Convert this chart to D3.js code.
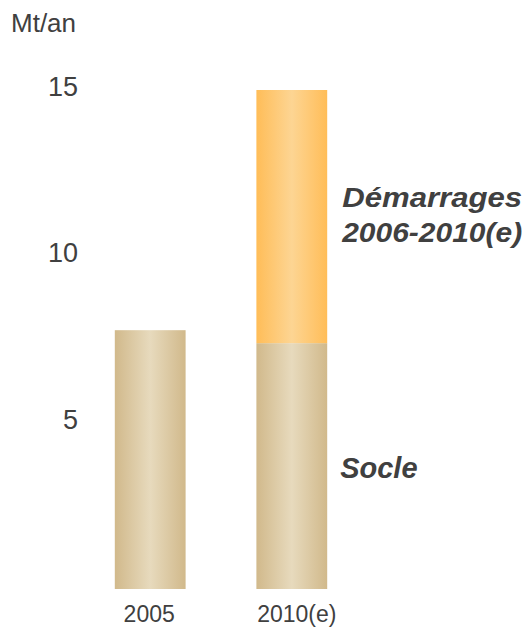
<!DOCTYPE html>
<html>
<head>
<meta charset="utf-8">
<script src="https://cdn.jsdelivr.net/npm/d3@7"></script>
<style>
  body { margin: 0; background: #fff; }
  svg text { font-family: "Liberation Sans", Arial, sans-serif; fill: #404040; }
</style>
</head>
<body>
<div id="chart"></div>
<script>
// data (Mt/an)
const categories = ['2005', '2010(e)'];
const socle = [7.78, 7.39];
const demarrages = [0, 7.61];
const tickValues = [5, 10, 15];
const unitLabel = 'Mt/an';
const seriesLabels = [['Démarrages', '2006-2010(e)'], ['Socle']];

const width = 532;
const height = 628;

let svg = d3.select('#chart')
  .append('svg')
  .attr('width', width)
  .attr('height', height);

let defs = svg.append('defs');
addGradient('tan', '#d1b98b', '#e7dabd');
addGradient('orange', '#ffbd58', '#fdd593');

function addGradient(id, edge, middle) {
  let g = defs.append('linearGradient')
    .attr('id', id)
    .attr('x1', '0%').attr('x2', '100%')
    .attr('y1', '0%').attr('y2', '0%');
  g.append('stop').attr('offset', '0%').attr('stop-color', edge);
  g.append('stop').attr('offset', '50%').attr('stop-color', middle);
  g.append('stop').attr('offset', '100%').attr('stop-color', edge);
}

let x = d3.scaleBand()
  .domain(categories)
  .range([44, 398])
  .paddingInner(0.5)
  .paddingOuter(0.5);

let y = d3.scaleLinear()
  .domain([0, 15])
  .range([589, 90]);

let stacked = d3.stack().keys(['socle', 'demarrages'])(
  categories.map((c, i) => ({cat: c, socle: socle[i], demarrages: demarrages[i]}))
);
let fills = ['url(#tan)', 'url(#orange)'];

stacked.forEach((layer, li) => {
  svg.append('g')
    .selectAll('rect')
    .data(layer.filter(d => d[1] > d[0]))
    .enter()
    .append('rect')
    .attr('x', d => x(d.data.cat))
    .attr('width', x.bandwidth())
    .attr('y', d => y(d[1]))
    .attr('height', d => y(d[0]) - y(d[1]))
    .attr('fill', fills[li]);
});

// y tick labels (no axis line in the original)
svg.append('g')
  .selectAll('text')
  .data(tickValues)
  .enter()
  .append('text')
  .attr('x', 78)
  .attr('y', d => y(d))
  .attr('dy', '0.22em')
  .attr('text-anchor', 'end')
  .style('font-size', '27px')
  .text(d => d);

svg.append('text')
  .attr('x', 11)
  .attr('y', 32)
  .style('font-size', '26px')
  .text(unitLabel);

// category labels
svg.append('g')
  .selectAll('text')
  .data(categories)
  .enter()
  .append('text')
  .attr('x', d => x(d) + x.bandwidth() / 2 + (d === '2005' ? -1 : 5))
  .attr('y', 622)
  .attr('text-anchor', 'middle')
  .style('font-size', '23px')
  .text(d => d);

// series labels on the right of the last bar
let last = categories[categories.length - 1];
let labelX = x(last) + x.bandwidth() + 15;
let topLayer = stacked[1].find(d => d.data.cat === last);
let baseLayer = stacked[0].find(d => d.data.cat === last);

let dem = svg.append('text')
  .attr('x', labelX)
  .attr('y', y((topLayer[0] + topLayer[1]) / 2) + 7)
  .style('font-size', '27px')
  .style('font-weight', 'bold')
  .style('font-style', 'italic');
seriesLabels[0].forEach((line, i) => {
  dem.append('tspan')
    .attr('x', labelX)
    .attr('dy', i === 0 ? '-0.62em' : '1.3em')
    .attr('textLength', 180)
    .attr('lengthAdjust', 'spacingAndGlyphs')
    .text(line);
});

svg.append('text')
  .attr('x', labelX - 2)
  .attr('y', y((baseLayer[0] + baseLayer[1]) / 2) + 12)
  .style('font-size', '29px')
  .style('font-weight', 'bold')
  .style('font-style', 'italic')
  .text(seriesLabels[1][0]);
</script>
</body>
</html>
